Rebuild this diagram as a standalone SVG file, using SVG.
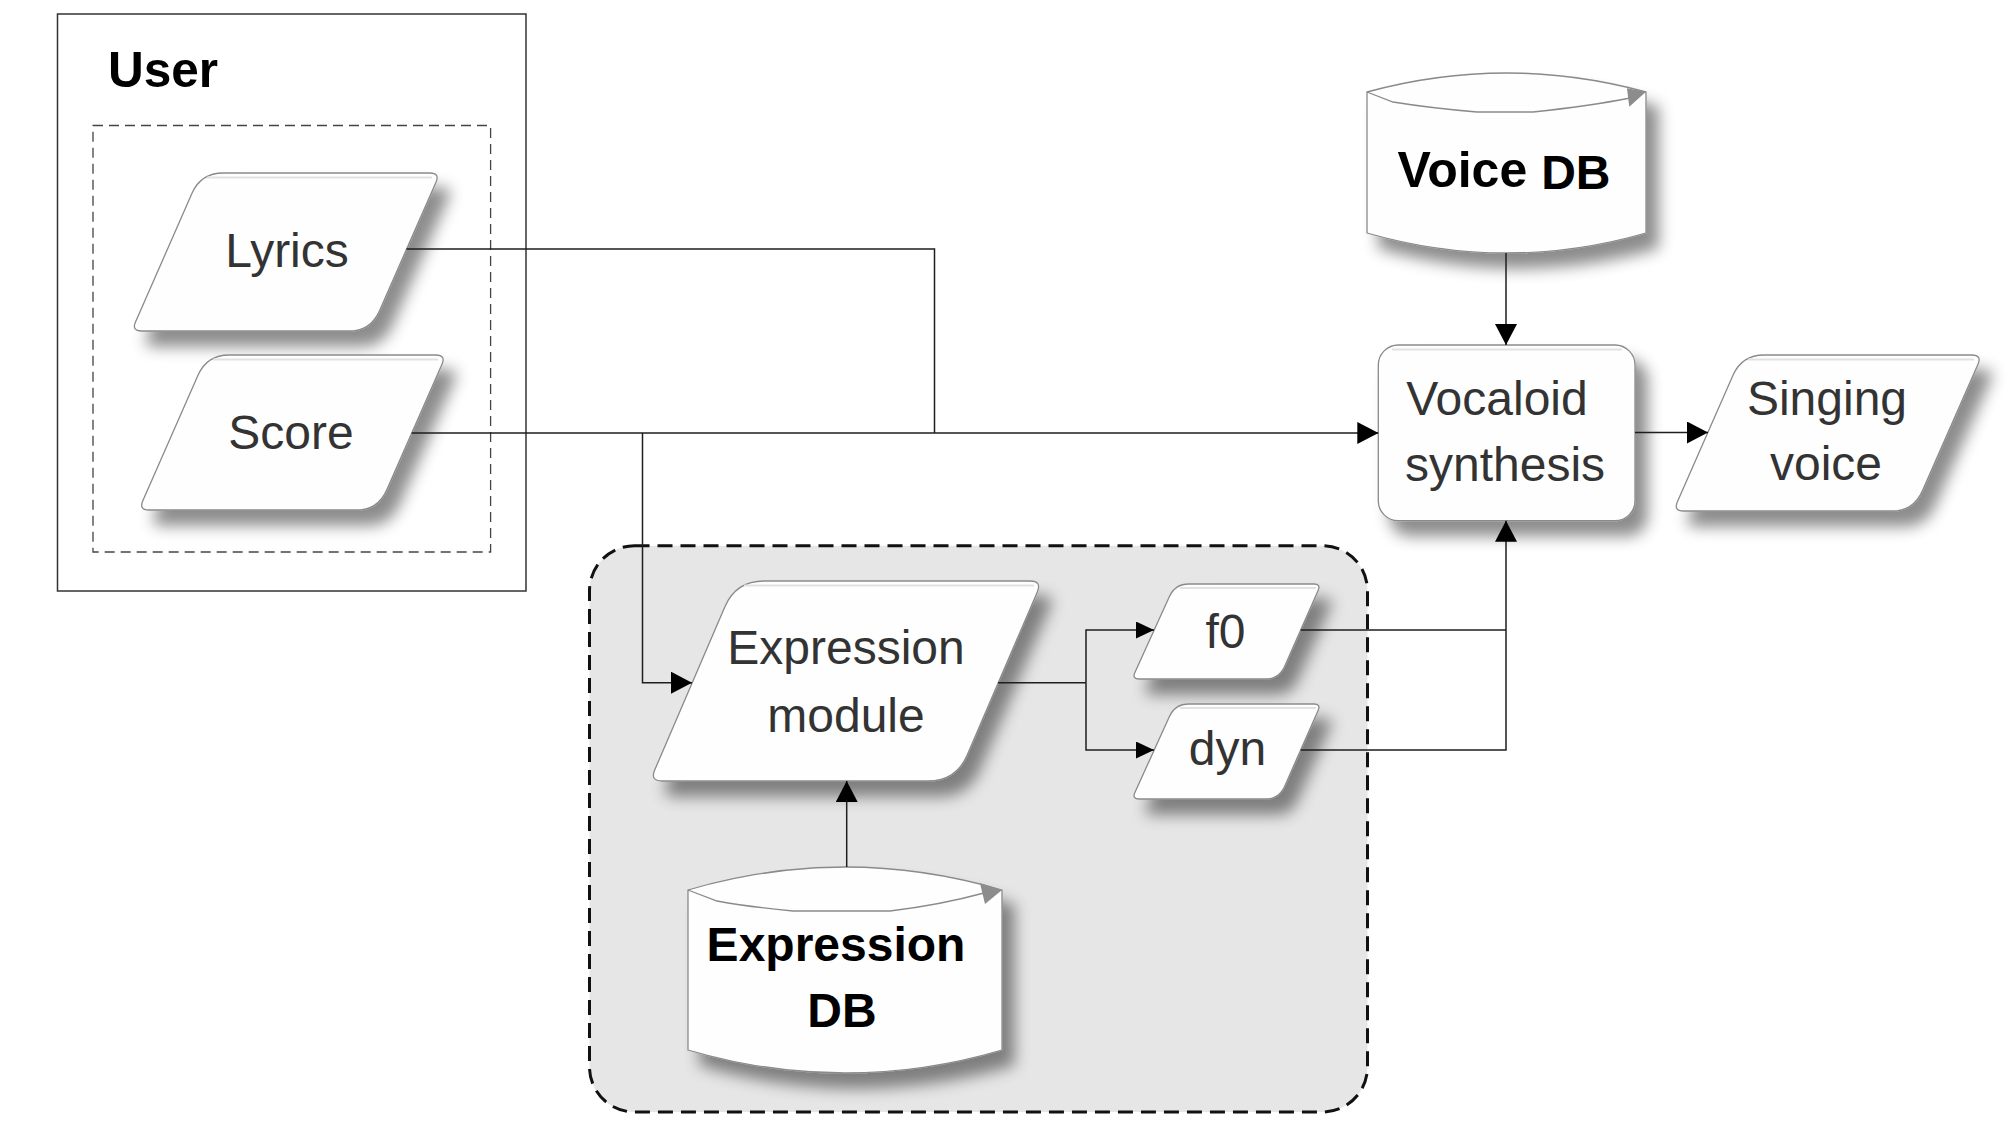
<svg xmlns="http://www.w3.org/2000/svg" width="2014" height="1125" viewBox="0 0 2014 1125">
<defs>
<style>
.shape{fill:#fefefe;stroke:#8a8a8a;stroke-width:1.3;filter:url(#sh)}
.hl{fill:none;stroke:#e2e2e2;stroke-width:2}
.t{font-family:"Liberation Sans",Arial,sans-serif;font-size:48px;fill:#333;text-anchor:middle}
.tb{font-family:"Liberation Sans",Arial,sans-serif;font-size:48px;font-weight:bold;fill:#000;text-anchor:middle}
.c{fill:none;stroke:#1e1e1e;stroke-width:1.5}
.tri{fill:#8c8c8c;stroke:none}
.inner{fill:none;stroke:#8a8a8a;stroke-width:1.3}
</style>
<filter id="sh" x="-20%" y="-20%" width="150%" height="160%">
<feDropShadow dx="12" dy="15" stdDeviation="7.5" flood-color="#000" flood-opacity="0.45"/>
</filter>
<marker id="ah" viewBox="0 0 21 22" refX="21" refY="11" markerWidth="21" markerHeight="22" markerUnits="userSpaceOnUse" orient="auto">
<path d="M0,0 L21,11 L0,22 Z" fill="#000"/>
</marker>
<marker id="as" viewBox="0 0 18 17" refX="18" refY="8.5" markerWidth="18" markerHeight="17" markerUnits="userSpaceOnUse" orient="auto">
<path d="M0,0 L18,8.5 L0,17 Z" fill="#000"/>
</marker>
</defs>
<rect width="2014" height="1125" fill="#fff"/>

<g id="expression-container">
<rect x="589.5" y="545.7" width="778" height="566.3" rx="45" fill="#e6e6e6" stroke="#111" stroke-width="3" stroke-dasharray="15 8"/>
</g>

<g id="user">
<rect x="57.5" y="14" width="468.5" height="577" fill="none" stroke="#333" stroke-width="1.5"/>
<rect x="93" y="125.5" width="397.6" height="426.5" fill="none" stroke="#444" stroke-width="1.3" stroke-dasharray="10 6"/>
<text class="tb" x="108" y="87" style="text-anchor:start;font-size:49.5px">User</text>
</g>

<g id="lyrics">
<path class="shape" d="M223,173 L430,173 Q440,173 436,182.2 L379.4,310.9 Q370.5,331 348.5,331 L141.5,331 Q131.5,331 135.5,321.9 L192.1,193.1 Q201,173 223,173 Z"/>
<path class="hl" d="M207,177.5 H432"/>
<text class="t" x="287" y="267">Lyrics</text>
</g>

<g id="score">
<path class="shape" d="M229,355 L436,355 Q446,355 442,364.2 L386.7,489.9 Q377.8,510 355.8,510 L148.8,510 Q138.8,510 142.8,500.8 L198.1,375.1 Q207,355 229,355 Z"/>
<path class="hl" d="M213,359.5 H438"/>
<text class="t" x="291" y="449">Score</text>
</g>

<g id="voice-db">
<path class="shape" d="M1367,92 Q1506.5,54 1646,92 L1646,233 Q1506.5,273 1367,233 Z"/>
<path class="inner" d="M1367,92 L1393,102 Q1430,108 1477,112 L1533,112 Q1590,106 1630,98"/>
<path class="tri" d="M1627,88.3 L1646,91.7 L1629.3,106.7 Z"/>
<text class="tb" x="1504" y="187" style="font-size:50px">Voice <tspan style="font-size:48px" dy="2">DB</tspan></text>
</g>

<g id="vocaloid-synthesis">
<rect class="shape" x="1378.3" y="345" width="256.7" height="175.7" rx="20"/>
<path class="hl" d="M1392,349.5 H1622"/>
<text class="t" x="1497" y="415">Vocaloid</text>
<text class="t" x="1505" y="481">synthesis</text>
</g>

<g id="singing-voice">
<path class="shape" d="M1764,355 L1972,355 Q1982,355 1978,364.2 L1922.3,490.9 Q1913.4,511 1891.4,511 L1683.4,511 Q1673.4,511 1677.4,501.8 L1733.1,375.1 Q1742,355 1764,355 Z"/>
<path class="hl" d="M1748,359.5 H1974"/>
<text class="t" x="1827" y="415">Singing</text>
<text class="t" x="1826" y="480">voice</text>
</g>

<g id="expression-module">
<path class="shape" d="M764,581 L1030,581 Q1042,581 1037.3,592 L967.1,755.3 Q956,781 928,781 L662,781 Q650,781 654.7,770 L724.9,606.7 Q736,581 764,581 Z"/>
<path class="hl" d="M744,585.5 H1034"/>
<text class="t" x="846" y="664">Expression</text>
<text class="t" x="846" y="732">module</text>
</g>

<g id="f0">
<path class="shape" d="M1189,584 L1314,584 Q1321,584 1318.1,590.4 L1284.7,666.2 Q1279,679 1265,679 L1139,679 Q1132,679 1134.9,672.6 L1169.3,596.8 Q1175,584 1189,584 Z"/>
<path class="hl" d="M1180,588 H1316"/>
<text class="t" x="1225.5" y="647.5">f0</text>
</g>

<g id="dyn">
<path class="shape" d="M1189,704 L1314,704 Q1321,704 1318.1,710.4 L1284.7,786.2 Q1279,799 1265,799 L1139,799 Q1132,799 1134.9,792.6 L1169.3,716.8 Q1175,704 1189,704 Z"/>
<path class="hl" d="M1180,708 H1316"/>
<text class="t" x="1227.5" y="765">dyn</text>
</g>

<g id="expression-db">
<path class="shape" d="M688,890 Q845,844 1002,890 L1002,1050 Q845,1096 688,1050 Z"/>
<path class="inner" d="M688,890 L717,901 Q750,907 793,911 L890,911 Q940,905 984,893"/>
<path class="tri" d="M980,883.3 L1002,890 L985,904 Z"/>
<text class="tb" x="836" y="961">Expression</text>
<text class="tb" x="842" y="1027">DB</text>
</g>

<g id="connectors">
<path class="c" d="M406.5,249 H934.5 V433"/>
<path class="c" d="M411.7,433 H1378.3" marker-end="url(#ah)"/>
<path class="c" d="M642.5,433 V682.7 H692" marker-end="url(#ah)"/>
<path class="c" d="M1506,253 V345" marker-end="url(#ah)"/>
<path class="c" d="M1635,432.5 H1708" marker-end="url(#ah)"/>
<path class="c" d="M998,682.7 H1086"/>
<path class="c" d="M1086,682.7 V630 H1154" marker-end="url(#as)"/>
<path class="c" d="M1086,682.7 V750 H1154" marker-end="url(#as)"/>
<path class="c" d="M1300.7,630 H1506"/>
<path class="c" d="M1300.7,750 H1506 V520.7" marker-end="url(#ah)"/>
<path class="c" d="M846.7,867 V781" marker-end="url(#ah)"/>
</g>
</svg>
